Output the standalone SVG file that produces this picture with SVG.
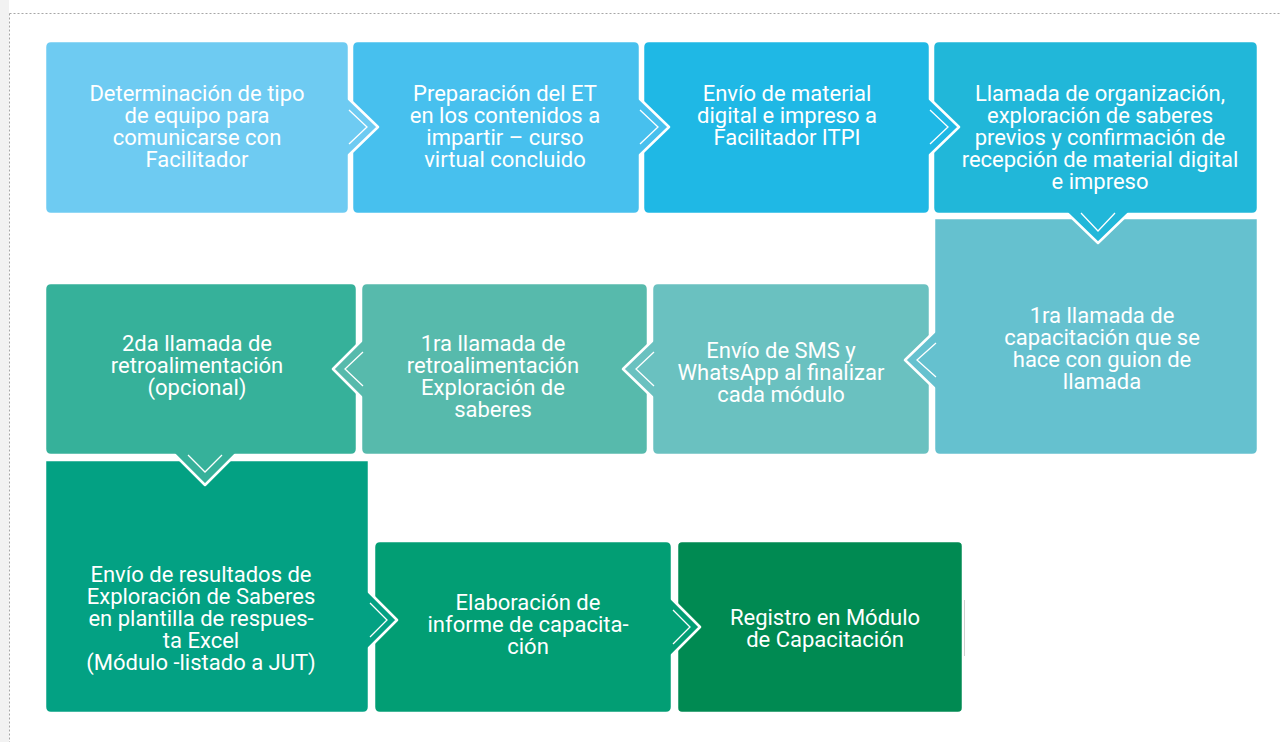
<svg xmlns="http://www.w3.org/2000/svg" width="1281" height="742" viewBox="0 0 1281 742">
<style>
.box{stroke:#ffffff;stroke-width:2.5;stroke-linejoin:round}
.t{font-family:Roboto,"Liberation Sans",sans-serif;font-size:22px;fill:#ffffff;text-anchor:middle}
.chev{fill:none;stroke:#ffffff;stroke-width:1.3}
</style>
<rect x="0" y="0" width="1281" height="742" fill="#ffffff"/>
<rect x="0" y="0" width="9" height="742" fill="#f2f2f2"/>
<line x1="9.5" y1="13.5" x2="9.5" y2="742" stroke="#a6a6a6" stroke-width="1" stroke-dasharray="2,2"/>
<line x1="9.5" y1="13.5" x2="1281" y2="13.5" stroke="#a6a6a6" stroke-width="1" stroke-dasharray="2,2"/>

<g id="n11">
<rect class="box" x="677" y="541" width="286" height="172" rx="5" fill="#008a52"/>
<line x1="964.5" y1="600" x2="964.5" y2="656" stroke="#d0d0d0" stroke-width="1"/>
<text class="t" x="825" y="625">Registro en Módulo</text>
<text class="t" x="825" y="647">de Capacitación</text>
</g>
<g id="n10">
<path class="box" fill="#029e74" d="M380,541 H666 Q672,541 672,547 V599 L700,627 L672,655 V707 Q672,713 666,713 H380 Q374,713 374,707 V547 Q374,541 380,541 Z"/>
<text class="t" x="528" y="610">Elaboración de</text>
<text class="t" x="528" y="632">informe de capacita-</text>
<text class="t" x="528" y="654">ción</text>
</g>
<g id="n9">
<path class="box" fill="#03a183" d="M45,460 H369 V592 L397,620 L369,648 V707 Q369,713 363,713 H51 Q45,713 45,707 Z"/>
<text class="t" x="201" y="582">Envío de resultados de</text>
<text class="t" x="201" y="604">Exploración de Saberes</text>
<text class="t" x="201" y="626">en plantilla de respues-</text>
<text class="t" x="201" y="648">ta Excel</text>
<text class="t" x="201" y="670">(Módulo -listado a JUT)</text>
</g>
<g id="n8">
<path class="box" fill="#36b19a" d="M51,283 H351 Q357,283 357,289 V449 Q357,455 351,455 H235 L205,485 L175,455 H51 Q45,455 45,449 V289 Q45,283 51,283 Z"/>
<text class="t" x="197" y="351">2da llamada de</text>
<text class="t" x="197" y="373">retroalimentación</text>
<text class="t" x="197" y="395">(opcional)</text>
</g>
<g id="n7">
<path class="box" fill="#57baac" d="M367,283 H642 Q648,283 648,289 V449 Q648,455 642,455 H367 Q361,455 361,449 V397 L333,369 L361,341 V289 Q361,283 367,283 Z"/>
<text class="t" x="493" y="351">1ra llamada de</text>
<text class="t" x="493" y="373">retroalimentación</text>
<text class="t" x="493" y="395">Exploración de</text>
<text class="t" x="493" y="417">saberes</text>
</g>
<g id="n6">
<path class="box" fill="#6ac1c0" d="M658,283 H924 Q930,283 930,289 V449 Q930,455 924,455 H658 Q652,455 652,449 V397 L623,369 L652,341 V289 Q652,283 658,283 Z"/>
<text class="t" x="781" y="358">Envío de SMS y</text>
<text class="t" x="781" y="380">WhatsApp al finalizar</text>
<text class="t" x="781" y="402">cada módulo</text>
</g>
<g id="n5">
<path class="box" fill="#65c1cf" d="M934,218 H1258 V449 Q1258,455 1252,455 H940 Q934,455 934,449 V388 L905,360 L934,332 Z"/>
<text class="t" x="1102" y="323">1ra llamada de</text>
<text class="t" x="1102" y="345">capacitación que se</text>
<text class="t" x="1102" y="367">hace con guion de</text>
<text class="t" x="1102" y="389">llamada</text>
</g>
<g id="n4">
<path class="box" fill="#21b7d9" d="M939,41 H1252 Q1258,41 1258,47 V208 Q1258,214 1252,214 H1128 L1098,243 L1068,214 H939 Q933,214 933,208 V47 Q933,41 939,41 Z"/>
<text class="t" x="1100" y="101">Llamada de organización,</text>
<text class="t" x="1100" y="123">exploración de saberes</text>
<text class="t" x="1100" y="145">previos y confirmación de</text>
<text class="t" x="1100" y="167">recepción de material digital</text>
<text class="t" x="1100" y="189">e impreso</text>
</g>
<g id="n3">
<path class="box" fill="#1fb8e5" d="M649,41 H924 Q930,41 930,47 V99 L959,127 L930,155 V208 Q930,214 924,214 H649 Q643,214 643,208 V47 Q643,41 649,41 Z"/>
<text class="t" x="787" y="101">Envío de material</text>
<text class="t" x="787" y="123">digital e impreso a</text>
<text class="t" x="787" y="145">Facilitador ITPI</text>
</g>
<g id="n2">
<path class="box" fill="#47c0ee" d="M358,41 H634 Q640,41 640,47 V99 L669,127 L640,155 V208 Q640,214 634,214 H358 Q352,214 352,208 V47 Q352,41 358,41 Z"/>
<text class="t" x="505" y="101">Preparación del ET</text>
<text class="t" x="505" y="123">en los contenidos a</text>
<text class="t" x="505" y="145">impartir – curso</text>
<text class="t" x="505" y="167">virtual concluido</text>
</g>
<g id="n1">
<path class="box" fill="#6ecbf2" d="M51,41 H343 Q349,41 349,47 V99 L378,127 L349,155 V208 Q349,214 343,214 H51 Q45,214 45,208 V47 Q45,41 51,41 Z"/>
<text class="t" x="197" y="101">Determinación de tipo</text>
<text class="t" x="197" y="123">de equipo para</text>
<text class="t" x="197" y="145">comunicarse con</text>
<text class="t" x="197" y="167">Facilitador</text>
</g>

<g id="connectors">
<path class="chev" d="M349,110 L367,127 L349,144"/>
<path class="chev" d="M640,110 L658,127 L640,144"/>
<path class="chev" d="M930,110 L948,127 L930,144"/>
<path class="chev" d="M1081,213 L1098,231 L1115,213"/>
<path class="chev" d="M936,343 L917,360 L936,377"/>
<path class="chev" d="M654,352 L636,369 L654,386"/>
<path class="chev" d="M363,352 L345,369 L363,386"/>
<path class="chev" d="M188,455 L205,472 L222,455"/>
<path class="chev" d="M370,603 L387,620 L370,637"/>
<path class="chev" d="M673,610 L690,627 L673,644"/>
</g>
</svg>
